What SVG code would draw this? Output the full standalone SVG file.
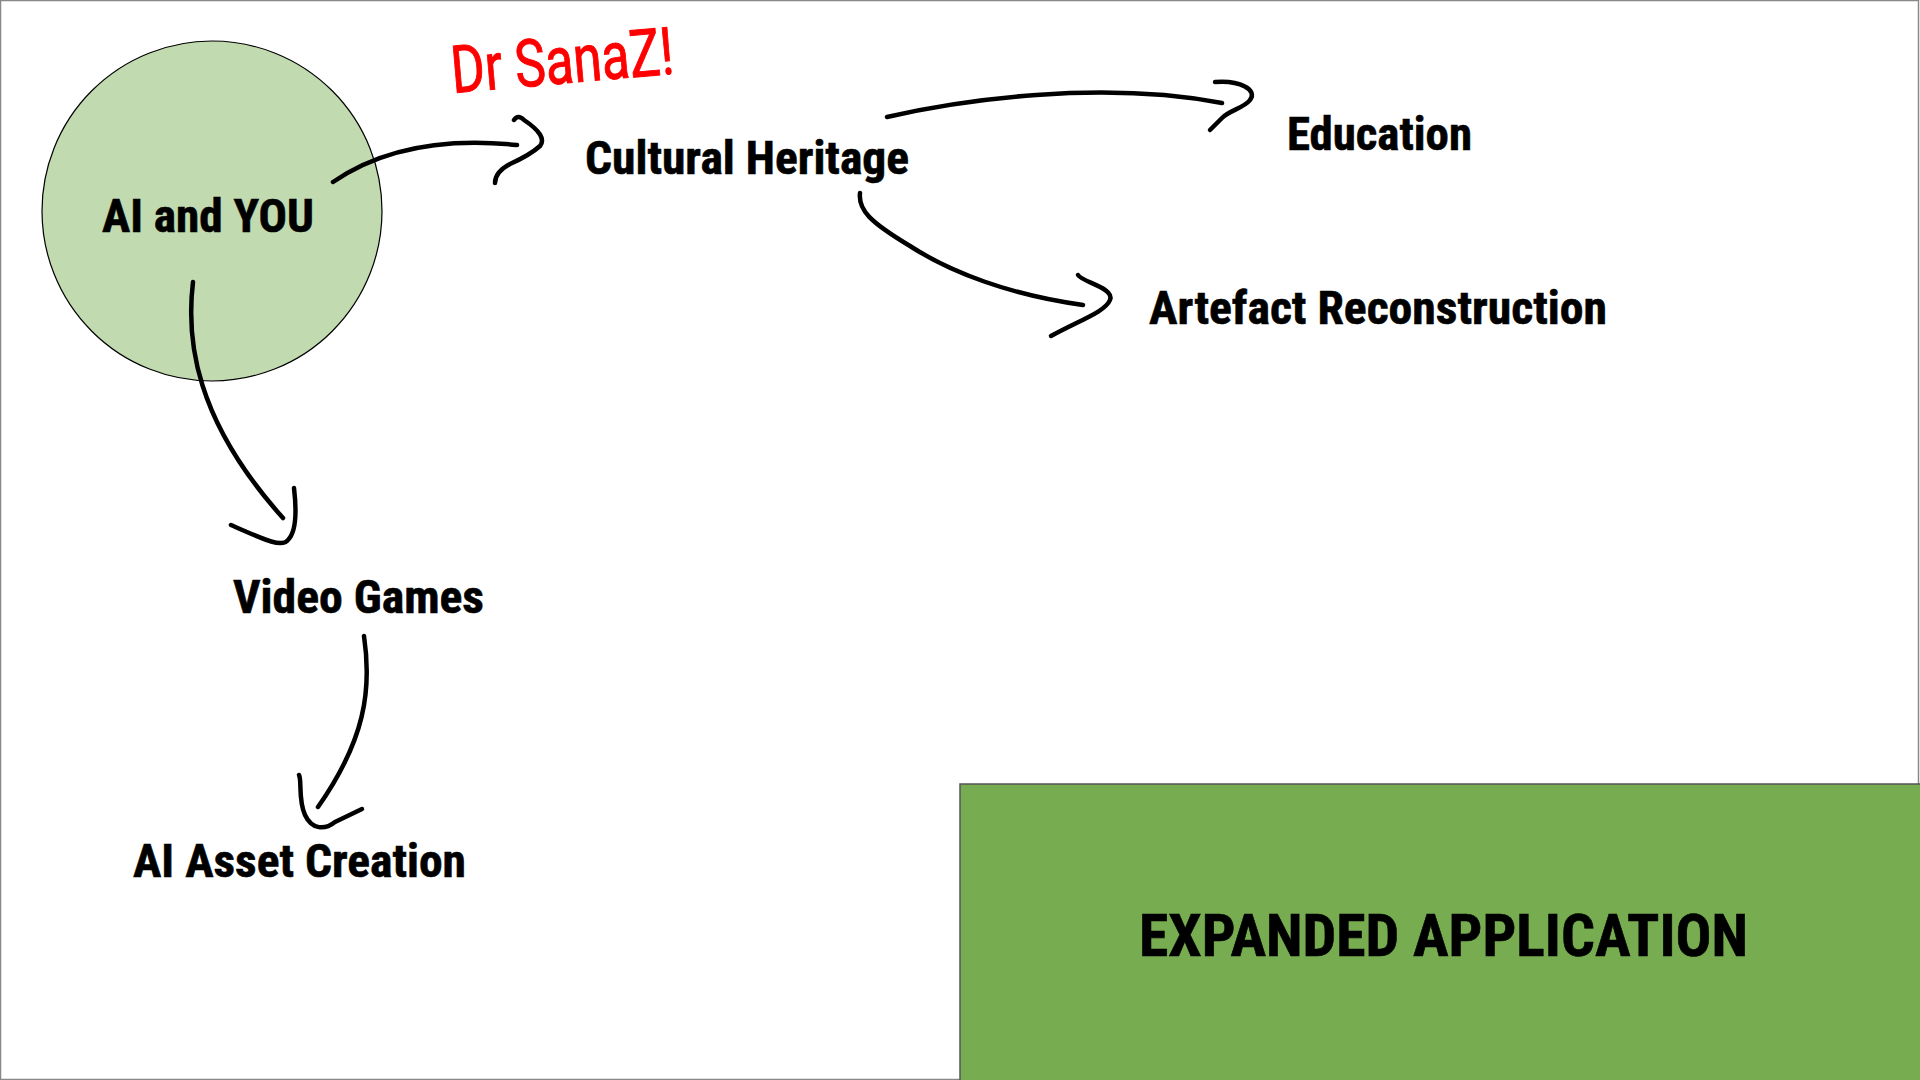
<svg xmlns="http://www.w3.org/2000/svg" width="1920" height="1080" viewBox="0 0 1920 1080">
  <defs>
    <style>
      .label { font-family: "Roboto Condensed", Roboto, "Liberation Sans", sans-serif; font-weight: 700; fill: #000000; stroke: #000000; stroke-width: 0.6; }
      .mid { font-size: 47px; }
      .big { font-size: 60px; }
      .ink { fill: none; stroke: #000000; stroke-width: 4.5; stroke-linecap: round; stroke-linejoin: round; }
      .note { font-family: Roboto, "Liberation Sans", sans-serif; font-weight: 400; font-size: 66px; fill: #FF0000; stroke: #FF0000; stroke-width: 1; }
    </style>
  </defs>

  <!-- slide background and frame -->
  <rect x="0.5" y="0.5" width="1918" height="1079" fill="#FFFFFF" stroke="#888888" stroke-width="1.5"/>

  <g id="node-ai-and-you">
    <circle cx="212" cy="211" r="170" fill="#C1DAB0" stroke="#000000" stroke-width="1.2"/>
    <text class="label mid" x="102" y="232" textLength="212" lengthAdjust="spacingAndGlyphs">AI and YOU</text>
  </g>

  <g id="node-cultural-heritage">
    <text class="label mid" x="585" y="174" textLength="324" lengthAdjust="spacingAndGlyphs">Cultural Heritage</text>
  </g>

  <g id="node-education">
    <text class="label mid" x="1287" y="150" textLength="185" lengthAdjust="spacingAndGlyphs">Education</text>
  </g>

  <g id="node-artefact-reconstruction">
    <text class="label mid" x="1149" y="324" textLength="458" lengthAdjust="spacingAndGlyphs">Artefact Reconstruction</text>
  </g>

  <g id="node-video-games">
    <text class="label mid" x="233" y="613" textLength="251" lengthAdjust="spacingAndGlyphs">Video Games</text>
  </g>

  <g id="node-ai-asset-creation">
    <text class="label mid" x="133" y="877" textLength="333" lengthAdjust="spacingAndGlyphs">AI Asset Creation</text>
  </g>

  <g id="node-expanded-application">
    <rect x="960" y="784" width="962" height="300" fill="#77AC50" stroke="#555555" stroke-width="1.5"/>
    <text class="label big" x="1139" y="956" textLength="609" lengthAdjust="spacingAndGlyphs">EXPANDED APPLICATION</text>
  </g>

  <!-- handwritten note -->
  <g id="note-dr-sanaz">
    <text class="note" x="453" y="93" textLength="223" lengthAdjust="spacingAndGlyphs" transform="rotate(-5 453 93)">Dr SanaZ!</text>
  </g>

  <!-- hand-drawn connectors -->
  <g id="connectors">
    <path class="ink" d="M333,182 C365,160 420,135 517,145"/>
    <path class="ink" d="M514,120 Q518,114 524,120 Q548,136 540,146 Q530,155 510,164 Q495,172 495,183"/>

    <path class="ink" d="M887,117 C960,100 1100,80 1222,103"/>
    <path class="ink" d="M1215,82 C1240,80 1258,90 1250,100 C1244,108 1230,110 1222,118 L1210,130"/>

    <path class="ink" d="M860,193 C858,210 870,222 910,246 C950,272 1010,295 1083,305"/>
    <path class="ink" d="M1078,275 C1082,282 1115,288 1110,300 C1105,312 1080,320 1051,336"/>

    <path class="ink" d="M193,282 C186,340 195,420 283,518"/>
    <path class="ink" d="M294,488 C296,505 298,530 288,540 C282,548 265,540 231,525"/>

    <path class="ink" d="M364,636 C372,690 365,740 318,807"/>
    <path class="ink" d="M299,775 C302,780 298,800 305,815 C312,830 325,830 335,822 L362,809"/>
  </g>
</svg>
